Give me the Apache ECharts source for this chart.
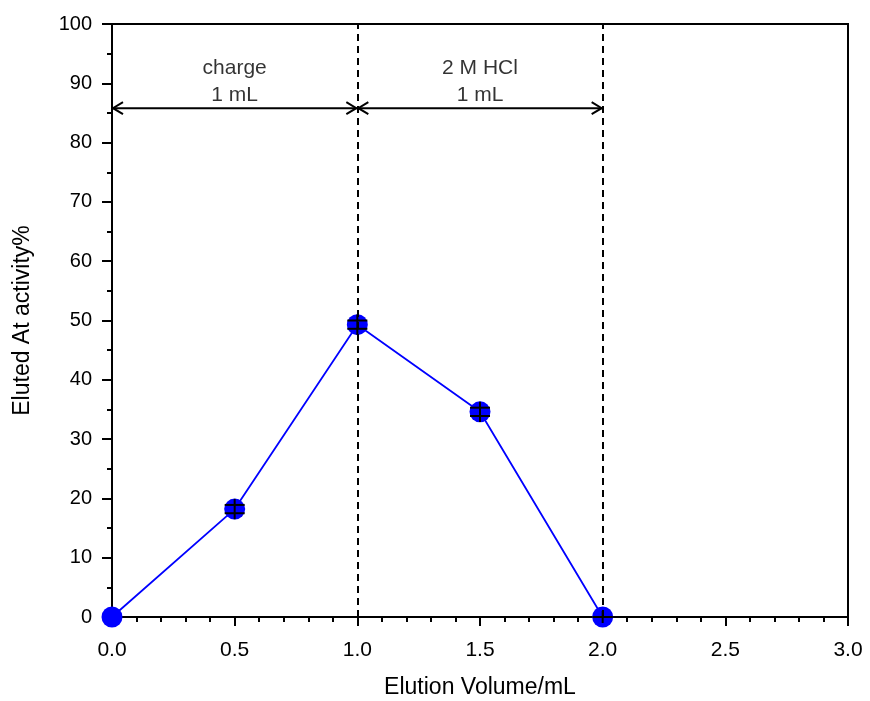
<!DOCTYPE html>
<html>
<head>
<meta charset="utf-8">
<title>Eluted At activity</title>
<script src="https://cdn.jsdelivr.net/npm/echarts@6/dist/echarts.min.js"></script>
<style>
    html, body { margin: 0; padding: 0; background: #fff; }
    #chart { width: 870px; height: 701px; }
</style>
</head>
<body>
<div id="chart"></div>
<script>
// 数据
var volumes = [0, 0.5, 1.0, 1.5, 2.0];
var activity = [0, 18.2, 49.3, 34.6, 0];
var errors = [null, 0.7, 0.7, 0.7, 0];

// 分段标注
var boundaries = [1.0, 2.0];
var arrowLevel = 85.8;
var segments = [[0, 1], [1, 2]];
var segmentLabels = ['charge\n1 mL', '2 M HCl\n1 mL'];
var labelLevel = 90.3;

var fontFamily = 'Liberation Sans, Arial, sans-serif';
var textColor = '#000';

var chart = echarts.init(document.getElementById('chart'));

var lineData = volumes.map(function (v, i) { return [v, activity[i]]; });
var errData = volumes.map(function (v, i) { return [v, activity[i]]; });
var arrowData = segments.map(function (s) { return [s[0], s[1], arrowLevel]; });
var labelData = segments.map(function (s, i) {
    return { value: [(s[0] + s[1]) / 2, labelLevel], label: { formatter: segmentLabels[i] } };
});

var option = {
    animation: false,
    grid: {
        left: 112, right: 22, top: 24, bottom: 84,
        outerBoundsMode: 'none',
        show: true, borderColor: '#000', borderWidth: 2, backgroundColor: 'transparent'
    },
    xAxis: {
        type: 'value', min: 0, max: 3, interval: 0.5,
        name: 'Elution Volume/mL', nameLocation: 'middle', nameGap: 59,
        nameTextStyle: { color: textColor, fontSize: 23, fontFamily: fontFamily },
        axisLine: { lineStyle: { color: '#000', width: 2 } },
        axisTick: { length: 9, lineStyle: { color: '#000', width: 2 } },
        minorTick: { show: true, splitNumber: 5, length: 5, lineStyle: { color: '#000', width: 2 } },
        splitLine: { show: false },
        axisLabel: {
            color: textColor, fontSize: 21, fontFamily: fontFamily, margin: 23,
            formatter: function (v) { return v.toFixed(1); }
        }
    },
    yAxis: {
        type: 'value', min: 0, max: 100, interval: 10,
        name: 'Eluted At activity%', nameLocation: 'middle', nameGap: 78, nameRotate: 90,
        nameTextStyle: { color: textColor, fontSize: 23, fontFamily: fontFamily },
        axisLine: { lineStyle: { color: '#000', width: 2 } },
        axisTick: { length: 10, lineStyle: { color: '#000', width: 2 } },
        minorTick: { show: true, splitNumber: 2, length: 5, lineStyle: { color: '#000', width: 2 } },
        splitLine: { show: false },
        axisLabel: { color: textColor, fontSize: 20, fontFamily: fontFamily, margin: 20 }
    },
    series: [
        {
            type: 'line',
            data: lineData,
            symbol: 'circle',
            symbolSize: 21,
            z: 3,
            itemStyle: { color: '#0000ff' },
            lineStyle: { color: '#0000ff', width: 1.8 }
        },
        {
            // 分界虚线
            type: 'line',
            data: [],
            z: 4,
            markLine: {
                silent: true,
                animation: false,
                label: { show: false },
                symbol: 'none',
                lineStyle: { type: [7, 5], color: '#000', width: 2 },
                emphasis: { disabled: true },
                data: boundaries.map(function (b) {
                    return [{ coord: [b, 0] }, { coord: [b, 100] }];
                })
            }
        },
        {
            // 双向箭头
            type: 'custom',
            z: 5,
            silent: true,
            data: arrowData,
            renderItem: function (params, api) {
                var a = api.coord([api.value(0), api.value(2)]);
                var b = api.coord([api.value(1), api.value(2)]);
                var style = { stroke: '#000', lineWidth: 2, fill: null };
                var hl = 11, hh = 6;
                return {
                    type: 'group',
                    children: [
                        { type: 'line', shape: { x1: a[0], y1: a[1], x2: b[0], y2: b[1] }, style: style },
                        { type: 'polyline', shape: { points: [[a[0] + hl, a[1] - hh], [a[0] + 1, a[1]], [a[0] + hl, a[1] + hh]] }, style: style },
                        { type: 'polyline', shape: { points: [[b[0] - hl, b[1] - hh], [b[0] - 1, b[1]], [b[0] - hl, b[1] + hh]] }, style: style }
                    ]
                };
            }
        },
        {
            // 误差棒
            type: 'custom',
            z: 6,
            silent: true,
            data: errData,
            renderItem: function (params, api) {
                var err = errors[params.dataIndex];
                if (err === null) return null;
                var x = api.value(0), y = api.value(1);
                var hi = api.coord([x, y + err]);
                var lo = api.coord([x, y - err]);
                var hw = 10;
                var style = { stroke: '#000', lineWidth: 2 };
                return {
                    type: 'group',
                    children: [
                        { type: 'line', shape: { x1: hi[0], y1: hi[1] - 6, x2: lo[0], y2: lo[1] + 6 }, style: style },
                        { type: 'line', shape: { x1: hi[0] - hw, y1: hi[1], x2: hi[0] + hw, y2: hi[1] }, style: style },
                        { type: 'line', shape: { x1: lo[0] - hw, y1: lo[1], x2: lo[0] + hw, y2: lo[1] }, style: style }
                    ]
                };
            }
        },
        {
            type: 'scatter',
            data: labelData,
            symbolSize: 0,
            silent: true,
            label: {
                show: true, position: 'inside', color: textColor,
                fontSize: 21, fontFamily: fontFamily, lineHeight: 27, align: 'center'
            }
        }
    ]
};

chart.setOption(option);
</script>
</body>
</html>
